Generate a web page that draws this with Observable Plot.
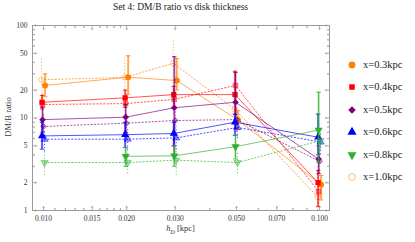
<!DOCTYPE html>
<html><head><meta charset="utf-8">
<script src="https://cdn.jsdelivr.net/npm/d3@7"></script>
<script src="https://cdn.jsdelivr.net/npm/@observablehq/plot@0.6"></script>
<style>
body{margin:0;background:#fff;}
#fig{position:relative;width:415px;height:242px;font-family:"Liberation Serif","DejaVu Serif",serif;}
#fig > svg{position:absolute;left:0;top:0;}
.ov{position:absolute;color:#333;white-space:nowrap;}
#title{left:0;width:361px;top:2px;text-align:center;font-size:9.5px;color:#222;}
#xlab{left:0;width:361px;top:224px;text-align:center;font-size:8.5px;line-height:9px;}
#ylab{left:-22px;top:112px;width:60px;text-align:center;font-size:8.5px;transform:rotate(-90deg);}
.leg{position:absolute;left:346px;height:12px;font-size:10.5px;line-height:12px;color:#222;display:flex;align-items:center;}
#fig .leg svg{position:static;margin-right:5px;flex:none;}
</style></head><body>
<div id="fig"></div>
<script>
// ---- data ----
const hD = [0.01, 0.02, 0.03, 0.05, 0.1];
const seriesNames = ["x=0.3kpc", "x=0.4kpc", "x=0.5kpc", "x=0.6kpc", "x=0.8kpc"];
const colors = ["#ff8000", "#ff0000", "#800080", "#0000ff", "#2eb02e"];
const shapes = ["circle", "square", "diamond2", "triangle", "triangle"];
// solid series (filled markers)
const solidVal = [
  [22.5, 27.6, 25.4, 9.5, 1.9],
  [14.8, 16.5, 17.9, 17.9, 2.0],
  [9.6, 10.2, 12.9, 14.8, 3.6],
  [6.4, 6.6, 6.8, 9.0, 6.2],
  [null, 3.85, 3.9, 4.9, 7.4]
];
const solidLo = [
  [17, 18, 20, 7.5, 1.3],
  [12.5, 13, 13, 11, 1.1],
  [7, 7, 3.9, 7.7, 2.5],
  [4.6, 4.8, 5, 6.5, 4],
  [null, 3, 3, 3.6, 3.3]
];
const solidHi = [
  [30, 47, 44, 12, 2.4],
  [17.5, 20, 22, 32, 2.7],
  [13, 14, 46, 31, 5],
  [9, 9, 9, 11, 11],
  [null, 4.8, 5, 6.5, 19]
];
// dotted series (open / faded markers)
const dotVal = [
  [25.9, 27.5, 39, 12.5, 1.4],
  [14, 14.3, 15.9, 22.5, 1.6],
  [8.1, 8.8, 9.4, 9.6, 3.4],
  [5.9, 5.9, 6.1, 7.9, 5.5],
  [3.3, 3.3, 3.5, 3.3, 5.7]
];
const dotLo = [
  [15, 20, 20, 8, 1.0],
  [10, 10, 11, 14, 1.1],
  [6, 6, 7, 7, 2.5],
  [4.3, 4.5, 4.5, 6, 4],
  [2.4, 2.5, 2.4, 2.5, 4.5]
];
const dotHi = [
  [45, 45, 72, 22, 2.5],
  [18, 18, 20, 33, 2.3],
  [11, 11, 12, 13, 4.5],
  [7.5, 7.5, 8, 10, 7],
  [4.5, 4.5, 4.6, 4.3, 7]
];
const extraLegend = "x=1.0kpc";
const xTicks = [0.010, 0.015, 0.020, 0.030, 0.050, 0.070, 0.100];
const xTickLabels = ["0.010", "0.015", "0.020", "0.030", "0.050", "0.070", "0.100"];
const xMinor = [0.011,0.012,0.013,0.014,0.016,0.017,0.018,0.019,0.04,0.06,0.08,0.09];
const yTicks = [1, 2, 5, 10, 20, 50, 100];
const yTickLabels = ["1", "2", "5", "10", "20", "50", "100"];
const yMinor = [3,4,6,7,8,9,30,40,60,70,80,90];

// ---- build rows ----
function build(vals, lo, hi, style) {
  const out = [];
  vals.forEach((arr, s) => arr.forEach((v, i) => {
    if (v != null) out.push({series: seriesNames[s], s, hD: hD[i], v, lo: lo[s][i], hi: hi[s][i], style});
  }));
  return out;
}
const solidRows = build(solidVal, solidLo, solidHi, "solid");
const dotRows = build(dotVal, dotLo, dotHi, "dotted");
const xTickRows = xTicks.map((t, i) => ({t, label: xTickLabels[i]}));
const yTickRows = yTicks.map((t, i) => ({t, label: yTickLabels[i]}));

const xDomain = [0.00912, 0.1086];
const yDomain = [1, 100];
const frameC = "#9a9a9a";
const capSym = {draw(ctx, size) { const w = Math.sqrt(size) / 2; ctx.moveTo(-w, 0); ctx.lineTo(w, 0); }};
const solidDx = [1.5, -1.5, -1, -1.5, -1];
const dotDx = [-2, -1, 0, 1, 1];

const marks = [];
// ticks (inward)
const tk = (data, opt) => Plot.vector(data, {anchor: "start", stroke: frameC, strokeWidth: 0.8, ...opt});
marks.push(
  tk(yTicks, {x: () => xDomain[0], y: d => d, rotate: 90, length: 4}),
  tk(yMinor, {x: () => xDomain[0], y: d => d, rotate: 90, length: 2}),
  tk(yTicks, {x: () => xDomain[1], y: d => d, rotate: -90, length: 4}),
  tk(yMinor, {x: () => xDomain[1], y: d => d, rotate: -90, length: 2}),
  tk(xTicks, {x: d => d, y: () => yDomain[0], rotate: 0, length: 4}),
  tk(xMinor, {x: d => d, y: () => yDomain[0], rotate: 0, length: 2}),
  tk(xTicks, {x: d => d, y: () => yDomain[1], rotate: 180, length: 4}),
  tk(xMinor, {x: d => d, y: () => yDomain[1], rotate: 180, length: 2})
);

seriesNames.forEach((name, s) => {
  const sr = solidRows.filter(d => d.s === s);
  const dr = dotRows.filter(d => d.s === s);
  const rot = s === 4 ? 180 : 0;
  // dotted series
  marks.push(
    Plot.line(dr, {x: "hD", y: "v", stroke: colors[s], strokeWidth: 1, strokeDasharray: "1.2,2.2", strokeOpacity: 0.7, dx: dotDx[s]}),
    Plot.ruleX(dr, {x: "hD", y1: "lo", y2: "hi", stroke: colors[s], strokeWidth: 1, strokeDasharray: "1.2,2", strokeOpacity: 0.65, dx: dotDx[s]}),
    Plot.dot(dr, {x: "hD", y: "v", symbol: () => shapes[s], rotate: rot, r: 2.7, fill: s === 0 ? "none" : colors[s], fillOpacity: 0.4, stroke: colors[s], strokeOpacity: 0.55, strokeWidth: 0.8, dx: dotDx[s]})
  );
  // solid series
  marks.push(
    Plot.line(sr, {x: "hD", y: "v", stroke: colors[s], strokeWidth: 0.9, strokeOpacity: 0.75, dx: solidDx[s]}),
    Plot.ruleX(sr, {x: "hD", y1: "lo", y2: "hi", stroke: colors[s], strokeWidth: 2.2, strokeOpacity: 0.4, dx: solidDx[s]}),
    Plot.ruleX(sr, {x: "hD", y1: "lo", y2: "hi", stroke: colors[s], strokeWidth: 0.8, strokeOpacity: 0.9, dx: solidDx[s]}),
    Plot.dot(sr, {x: "hD", y: "lo", symbol: capSym, r: 2.5, stroke: colors[s], strokeWidth: 0.8, dx: solidDx[s]}),
    Plot.dot(sr, {x: "hD", y: "hi", symbol: capSym, r: 2.5, stroke: colors[s], strokeWidth: 0.8, dx: solidDx[s]}),
    Plot.dot(sr, {x: "hD", y: "v", symbol: () => shapes[s], rotate: rot, r: 3, fill: colors[s], stroke: "none", dx: solidDx[s]})
  );
});

marks.push(
  Plot.frame({stroke: frameC, strokeWidth: 1}),
  Plot.text(xTickRows, {x: "t", y: () => yDomain[0], text: "label", dy: 8, fontSize: 7.5, fill: "#333", fontFamily: "Liberation Serif"}),
  Plot.text(yTickRows, {x: () => xDomain[0], y: "t", text: "label", dx: -5, textAnchor: "end", fontSize: 7.5, fill: "#333", fontFamily: "Liberation Serif"})
);

const chart = Plot.plot({
  width: 415, height: 242,
  marginLeft: 32, marginRight: 86, marginTop: 25, marginBottom: 32,
  x: {type: "log", domain: xDomain, axis: null},
  y: {type: "log", domain: yDomain, axis: null},
  symbol: {domain: shapes, range: shapes},
  style: {fontFamily: "Liberation Serif", background: "white", overflow: "visible"},
  marks
});
const fig = document.getElementById("fig");
fig.appendChild(chart);

function addDiv(id, html) { const d = document.createElement("div"); d.className = "ov"; d.id = id; d.innerHTML = html; fig.appendChild(d); }
addDiv("title", "Set 4: DM/B ratio vs disk thickness");
addDiv("xlab", "<i>h</i><sub style='font-size:6px;line-height:0'><i>D</i></sub> [kpc]");
addDiv("ylab", "DM/B ratio");

// legend
const legItems = seriesNames.map((n, i) => ({name: n, color: colors[i], shape: shapes[i], rot: i === 4 ? 180 : 0, open: false}))
  .concat([{name: extraLegend, color: colors[0], shape: "circle", rot: 0, open: true}]);
const symMap = {circle: d3.symbolCircle, square: d3.symbolSquare, diamond2: d3.symbolDiamond2, triangle: d3.symbolTriangle};
legItems.forEach((it, i) => {
  const d = document.createElement("div");
  d.className = "leg";
  d.style.top = (59 + i * 22.4) + "px";
  const path = d3.symbol(symMap[it.shape], it.shape === "square" ? 30 : 36)();
  d.innerHTML = `<svg width="12" height="12" viewBox="-6 -6 12 12"><path d="${path}" transform="rotate(${it.rot})" fill="${it.open ? "none" : it.color}" stroke="${it.open ? it.color : "none"}" stroke-opacity="0.6" stroke-width="0.9"/></svg><span>${it.name}</span>`;
  fig.appendChild(d);
});
</script>
</body></html>
